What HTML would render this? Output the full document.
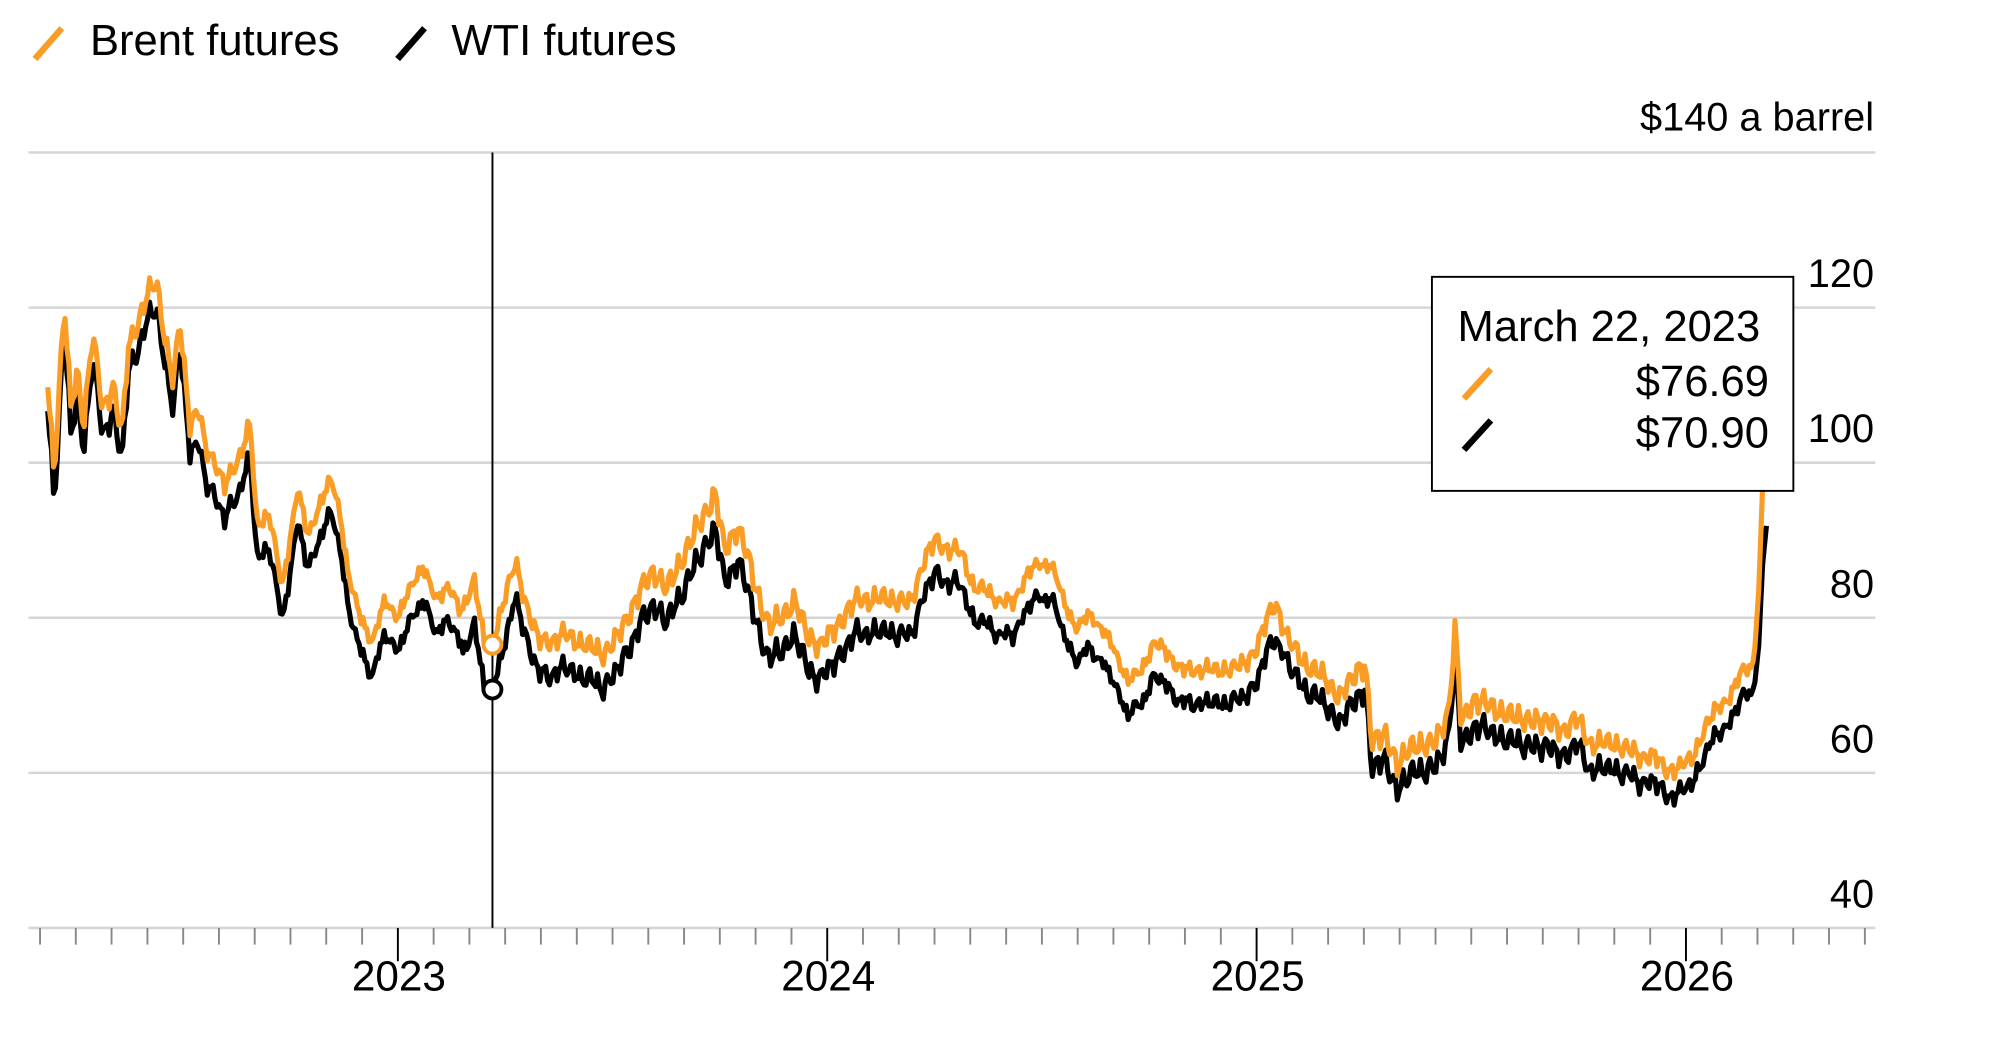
<!DOCTYPE html>
<html><head><meta charset="utf-8"><style>
html,body{margin:0;padding:0;background:#fff;}
svg{display:block;font-family:"Liberation Sans",Arial,sans-serif;}
</style></head><body>
<svg id="c" width="2000" height="1042" viewBox="0 0 1560 813" xmlns="http://www.w3.org/2000/svg">
<rect width="1560" height="813" fill="#fff"/>
<line x1="27" y1="46" x2="48" y2="22" stroke="#f99d27" stroke-width="5"/>
<text x="70" y="43" font-size="34" fill="#000">Brent futures</text>
<line x1="310" y1="46" x2="331" y2="22" stroke="#000" stroke-width="5"/>
<text x="352" y="43" font-size="34" fill="#000">WTI futures</text>
<g stroke="#d6d6d6" stroke-width="2">
<line x1="22" y1="119" x2="1463" y2="119"/>
<line x1="22" y1="240" x2="1463" y2="240"/>
<line x1="22" y1="361" x2="1463" y2="361"/>
<line x1="22" y1="482" x2="1463" y2="482"/>
<line x1="22" y1="603" x2="1463" y2="603"/>
<line x1="22" y1="724" x2="1463" y2="724"/>
</g>
<g font-size="31" fill="#000" text-anchor="end">
<text x="1462" y="102">$140 a barrel</text>
<text x="1462" y="224">120</text>
<text x="1462" y="345">100</text>
<text x="1462" y="466">80</text>
<text x="1462" y="587">60</text>
<text x="1462" y="708">40</text>
</g>
<g id="ticks" stroke-width="1.5"></g>
<g font-size="33" fill="#000" text-anchor="middle">
<text x="311" y="773">2023</text>
<text x="646" y="773">2024</text>
<text x="981" y="773">2025</text>
<text x="1316" y="773">2026</text>
</g>
<line x1="384" y1="119" x2="384" y2="724" stroke="#000" stroke-width="1.5"/>
<path id="wti" fill="none" stroke="#000" stroke-width="4" stroke-linejoin="round"/>
<path id="brent" fill="none" stroke="#f99d27" stroke-width="4" stroke-linejoin="round"/>
<circle cx="384" cy="503" r="7" fill="#fff" stroke="#f99d27" stroke-width="3"/>
<circle cx="384" cy="538" r="7" fill="#fff" stroke="#000" stroke-width="3"/>
<rect x="1117" y="216" width="282" height="167" fill="#fff" stroke="#000" stroke-width="1.5"/>
<text x="1137" y="266" font-size="34" fill="#000">March 22, 2023</text>
<line x1="1142" y1="311" x2="1163" y2="288" stroke="#f99d27" stroke-width="5"/>
<text x="1380" y="309" font-size="34" fill="#000" text-anchor="end">$76.69</text>
<line x1="1142" y1="351" x2="1163" y2="328" stroke="#000" stroke-width="5"/>
<text x="1380" y="349" font-size="34" fill="#000" text-anchor="end">$70.90</text>
</svg>
<script>
var t=document.getElementById('ticks'),s='';
for(var i=0;i<52;i++){var x=31+i*335/12;if(x>1463)break;var maj=Math.abs((x-311)%335)<1||Math.abs((x-311)%335-335)<1;
s+='<line x1="'+x.toFixed(1)+'" y1="724" x2="'+x.toFixed(1)+'" y2="'+(maj?750:737)+'" stroke="'+(maj?'#000':'#888')+'"/>';}
t.innerHTML=s;
var K=[[37,300],[42,370],[50,235],[55,320],[60,290],[65,330],[72,260],[80,320],[88,300],[95,340],[100,270],[108,250],[115,230],[122,220],[128,260],[135,300],[140,250],[148,330],[155,320],[160,350],[168,360],[175,380],[185,360],[195,330],[200,410],[210,400],[220,460],[232,380],[240,420],[250,390],[258,375],[265,400],[272,450],[280,480],[290,500],[300,470],[310,480],[320,460],[330,440],[340,470],[350,455],[360,480],[370,450],[378,505],[384,503],[392,470],[402,440],[410,470],[420,500],[430,500],[440,495],[450,500],[460,505],[470,510],[480,500],[490,480],[500,460],[510,445],[520,460],[530,440],[540,420],[550,400],[558,385],[565,430],[575,410],[582,430],[590,460],[600,490],[610,480],[620,470],[630,495],[640,505],[650,490],[660,480],[670,465],[680,470],[690,465],[700,470],[710,470],[720,440],[730,420],[740,430],[750,430],[760,460],[770,460],[780,470],[790,470],[800,450],[810,440],[820,440],[830,470],[840,490],[850,480],[860,490],[870,510],[880,530],[890,525],[900,500],[910,510],[920,520],[930,525],[940,520],[950,525],[960,520],[970,520],[980,505],[990,480],[995,470],[1005,500],[1020,520],[1035,530],[1045,545],[1060,520],[1065,520],[1070,580],[1080,570],[1090,600],[1100,580],[1110,585],[1120,575],[1130,560],[1135,490],[1140,560],[1150,550],[1160,545],[1170,560],[1180,555],[1190,565],[1200,560],[1210,565],[1220,570],[1230,560],[1240,580],[1250,580],[1260,580],[1270,585],[1280,590],[1290,590],[1300,600],[1310,600],[1320,590],[1330,570],[1340,550],[1350,545],[1360,520],[1368,520],[1372,460],[1375,380],[1378,330]];
function interp(x){for(var i=0;i<K.length-1;i++){if(x<=K[i+1][0]){var a=K[i],b=K[i+1],f=(x-a[0])/(b[0]-a[0]);return a[1]+(b[1]-a[1])*f;}}return K[K.length-1][1];}
function nz(x){return 5*Math.sin(x*0.9)+3*Math.sin(x*2.3+1)+2.5*Math.sin(x*5.1+2)+2*Math.sin(x*0.31);}
var b='',w='';
for(var x=37;x<=1378;x+=1.5){var y=interp(x)+(x>1368?0:nz(x));if(x==384)y=503;
var off=x<150?20:(x<360?26:(x<400?35:(x<1000?26:(x<1368?20:20+(x-1368)*6))));
var wy=y+off+1.5*Math.sin(x*3.7);
b+=(b?'L':'M')+x.toFixed(1)+' '+y.toFixed(1);
w+=(w?'L':'M')+x.toFixed(1)+' '+wy.toFixed(1);}
document.getElementById('brent').setAttribute('d',b);
document.getElementById('wti').setAttribute('d',w);
</script>
</body></html>
